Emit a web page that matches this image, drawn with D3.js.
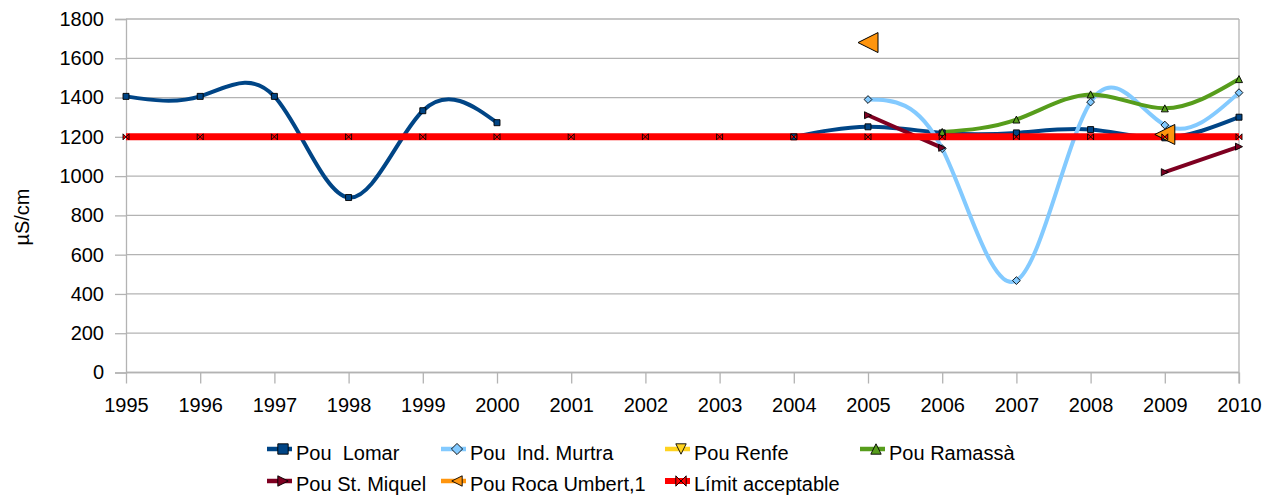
<!DOCTYPE html>
<html>
<head>
<meta charset="utf-8">
<script src="https://cdn.jsdelivr.net/npm/d3@7"></script>
<style>
  html, body { margin: 0; padding: 0; background: #fff; }
  svg { display: block; font-family: "Liberation Sans", Arial, sans-serif; }
  text { white-space: pre; }
</style>
</head>
<body>
<svg id="chart" width="1271" height="497"></svg>
<script>
// ---- data ----
const years = ["1995","1996","1997","1998","1999","2000","2001","2002","2003","2004","2005","2006","2007","2008","2009","2010"];
const yTicks = [0, 200, 400, 600, 800, 1000, 1200, 1400, 1600, 1800];
const seriesNames = ["Pou  Lomar", "Pou  Ind. Murtra", "Pou Renfe", "Pou Ramassà", "Pou St. Miquel", "Pou Roca Umbert,1", "Límit acceptable"];
const pouLomar     = [1406, 1406, 1406, 891, 1333, 1272, null, null, null, 1200, 1251, 1220, 1220, 1237, 1195, 1300];
const pouMurtra    = [null, null, null, null, null, null, null, null, null, null, 1390, 1140, 468, 1377, 1260, 1425];
const pouRenfe     = [null, null, null, null, null, null, null, null, null, null, null, null, null, null, null, null];
const pouRamassa   = [null, null, null, null, null, null, null, null, null, null, null, 1225, 1288, 1416, 1345, 1494];
const pouStMiquel  = [null, null, null, null, null, null, null, null, null, null, 1310, 1144, null, null, 1020, 1150];
const pouRocaUmbert= [null, null, null, null, null, null, null, null, null, null, 1680, null, null, null, 1212, null];
const limitAccept  = [1200, 1200, 1200, 1200, 1200, 1200, 1200, 1200, 1200, 1200, 1200, 1200, 1200, 1200, 1200, 1200];

// ---- styles ----
const colors = ["#004586", "#83caff", "#ffd320", "#579d1c", "#7e0021", "#ff950e", "#ff0000"];
const shapes = ["square", "diamond", "down", "up", "right", "left", "bowtie"];
const lineWidths = [4, 4, 4, 4, 4, 4, 7];
const markerHalf = [3, 3, 3, 3.5, 3.5, 10, 3];
const allValues = [pouLomar, pouMurtra, pouRenfe, pouRamassa, pouStMiquel, pouRocaUmbert, limitAccept];

const svg = d3.select("#chart");
const x = d3.scalePoint().domain(years).range([126, 1239]);
const y = d3.scaleLinear().domain([0, 1800]).range([372.5, 19]);
const grey = "#b3b3b3";
const font = 20;

// gridlines
svg.append("g").selectAll("line").data(yTicks).join("line")
  .attr("x1", x.range()[0]).attr("x2", x.range()[1])
  .attr("y1", d => y(d)).attr("y2", d => y(d))
  .attr("stroke", grey).attr("stroke-width", 1.3);
// right border
svg.append("line").attr("x1", x("2010")).attr("x2", x("2010"))
  .attr("y1", y(1800)).attr("y2", y(0) + 11).attr("stroke", grey).attr("stroke-width", 1.3);

// axes
const yAxis = svg.append("g").attr("transform", `translate(${x("1995")},0)`)
  .call(d3.axisLeft(y).tickValues(yTicks).tickSize(11).tickPadding(11).tickFormat(d3.format("d")));
const xAxis = svg.append("g").attr("transform", `translate(0,${y(0)})`)
  .call(d3.axisBottom(x).tickSize(11).tickPadding(14));
[yAxis, xAxis].forEach(a => {
  a.selectAll(".domain").attr("stroke", grey).attr("stroke-width", 1.3);
  a.selectAll(".tick line").attr("stroke", grey).attr("stroke-width", 1.3);
  a.selectAll("text").attr("font-size", font).attr("fill", "#000")
    .attr("font-family", "'Liberation Sans', Arial, sans-serif");
});
xAxis.select(".domain").attr("d", `M${x.range()[0]},0H${x.range()[1]}`);

// y title
svg.append("text").attr("transform", "translate(29,217) rotate(-90)")
  .attr("text-anchor", "middle").attr("font-size", font).attr("fill", "#000").text("µS/cm");

// marker path
function markerPath(shape, s) {
  switch (shape) {
    case "square": return `M${-s},${-s}H${s}V${s}H${-s}Z`;
    case "diamond": return `M0,${-s*1.3}L${s*1.3},0L0,${s*1.3}L${-s*1.3},0Z`;
    case "down": return `M${-s},${-s}L${s},${-s}L0,${s}Z`;
    case "up": return `M${-s},${s}L${s},${s}L0,${-s}Z`;
    case "right": return `M${-s},${-s}L${s},0L${-s},${s}Z`;
    case "left": return `M${s},${-s}L${-s},0L${s},${s}Z`;
    case "bowtie": return `M${-s},${-s}L${s},${s}L${s},${-s}L${-s},${s}Z`;
  }
}

// lines
const line = d3.line()
  .defined(d => d.v != null)
  .x(d => x(d.year)).y(d => y(d.v))
  .curve(d3.curveNatural);
const seriesData = allValues.map(vals => years.map((yr, i) => ({ year: yr, v: vals[i] })));
const gLines = svg.append("g");
seriesData.forEach((data, si) => {
  gLines.append("path").datum(data)
    .attr("d", line).attr("fill", "none")
    .attr("stroke", colors[si]).attr("stroke-width", lineWidths[si])
    .attr("stroke-linejoin", "round");
});
// markers
const gMarks = svg.append("g");
seriesData.forEach((data, si) => {
  gMarks.selectAll(null).data(data.filter(d => d.v != null)).join("path")
    .attr("transform", d => `translate(${x(d.year)},${y(d.v)})`)
    .attr("d", markerPath(shapes[si], markerHalf[si]))
    .attr("fill", colors[si]).attr("stroke", "#000").attr("stroke-width", si === 5 ? 1 : 0.9);
});

// legend
const colX = [267, 441, 665, 860];
const rowSym = [449, 481];
const rowBase = [459.5, 490.5];
const legend = svg.append("g");
seriesNames.forEach((name, i) => {
  const c = i < 4 ? i : i - 4;
  const r = i < 4 ? 0 : 1;
  const g = legend.append("g");
  g.append("line").attr("x1", colX[c]).attr("x2", colX[c] + 25)
    .attr("y1", rowSym[r]).attr("y2", rowSym[r])
    .attr("stroke", colors[i]).attr("stroke-width", i === 6 ? 6 : 4.5);
  g.append("path").attr("transform", `translate(${colX[c] + 16},${rowSym[r]})`)
    .attr("d", markerPath(shapes[i], i === 1 ? 4.3 : 5.2))
    .attr("fill", colors[i]).attr("stroke", "#000").attr("stroke-width", 0.9);
  g.append("text").attr("x", colX[c] + 29).attr("y", rowBase[r])
    .attr("font-size", font).attr("fill", "#000").text(name);
});
</script>
</body>
</html>
